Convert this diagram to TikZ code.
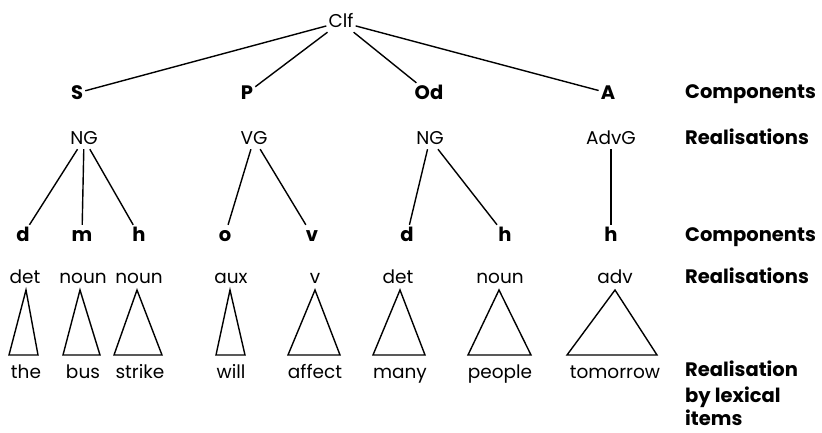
\documentclass[tikz,border=0pt]{standalone}
\usepackage{fontspec}
\setmainfont{Poppins}
\begin{document}
\begin{tikzpicture}[x=1pt,y=-1pt,
  lab/.style={font=\fontsize{18.5}{20}\selectfont, inner sep=2pt, text height=13pt, text depth=3pt, anchor=base},
  comp/.style={font=\fontsize{19.5}{20}\selectfont\bfseries, inner sep=2pt, text height=14pt, text depth=2pt, anchor=base},
  side/.style={font=\fontsize{19.5}{25}\selectfont\bfseries, anchor=base west, align=left, inner sep=0pt},
  edge/.style={line width=1.4pt},
  tri/.style={line width=1.4pt, line join=miter}]
\useasboundingbox (0,0) rectangle (822,432);
% top
\node[lab] (clf) at (341,27) {Clf};
\node[comp] (S) at (77,99) {S};
\node[comp] (P) at (247,99) {P};
\node[comp] (Od) at (429,99) {Od};
\node[comp] (A) at (608,99) {A};
\node[lab] (ng1) at (84,144) {NG};
\node[lab] (vg) at (254,144) {VG};
\node[lab] (ng2) at (430,144) {NG};
\node[lab] (advg) at (611,144) {AdvG};
% components row
\node[comp] (d1) at (23,241) {d};
\node[comp] (m1) at (82,241) {m};
\node[comp] (h1) at (139,241) {h};
\node[comp] (o1) at (225,241) {o};
\node[comp] (v1) at (312,241) {v};
\node[comp] (d2) at (407,241) {d};
\node[comp] (h2) at (505,241) {h};
\node[comp] (h3) at (611,241) {h};
% realisations row
\node[lab] (r1) at (25,283) {det};
\node[lab] (r2) at (83,283) {noun};
\node[lab] (r3) at (139,283) {noun};
\node[lab] (r4) at (231,283) {aux};
\node[lab] (r5) at (315,283) {v};
\node[lab] (r6) at (398,283) {det};
\node[lab] (r7) at (500,283) {noun};
\node[lab] (r8) at (615,283) {adv};
% lexical items
\node[lab] (w1) at (26,378) {the};
\node[lab] (w2) at (83,378) {bus};
\node[lab] (w3) at (140,378) {strike};
\node[lab] (w4) at (231,378) {will};
\node[lab] (w5) at (315,378) {affect};
\node[lab] (w6) at (400,378) {many};
\node[lab] (w7) at (500,378) {people};
\node[lab] (w8) at (615,378) {tomorrow};
% side labels
\node[side] (c1) at (685,98) {Components};
\node[side] (rl1) at (685,144) {Realisations};
\node[side] (c2) at (685,241) {Components};
\node[side] (rl2) at (685,283) {Realisations};
\node[side] (rl3) at (685,376) {Realisation};
\node[side] (rl4) at (685,402) {by lexical};
\node[side] (rl5) at (685,425) {items};
% edges
\draw[edge] (clf) -- (S);
\draw[edge] (clf) -- (P);
\draw[edge] (clf) -- (Od);
\draw[edge] (clf) -- (A);
\draw[edge] (ng1) -- (d1);
\draw[edge] (ng1) -- (m1);
\draw[edge] (ng1) -- (h1);
\draw[edge] (vg) -- (o1);
\draw[edge] (vg) -- (v1);
\draw[edge] (ng2) -- (d2);
\draw[edge] (ng2) -- (h2);
\draw[edge] (advg) -- (h3);
% triangles
\draw[tri] (26,290) -- (38,355) -- (9,355) -- cycle;
\draw[tri] (80,290) -- (100,355) -- (63,355) -- cycle;
\draw[tri] (137,290) -- (162,355) -- (114,355) -- cycle;
\draw[tri] (230,290) -- (245,355) -- (216,355) -- cycle;
\draw[tri] (315,290) -- (340,355) -- (288,355) -- cycle;
\draw[tri] (400,290) -- (425,355) -- (373,355) -- cycle;
\draw[tri] (499,290) -- (531,355) -- (468,355) -- cycle;
\draw[tri] (615,290) -- (657,355) -- (567,355) -- cycle;
\end{tikzpicture}
\end{document}
